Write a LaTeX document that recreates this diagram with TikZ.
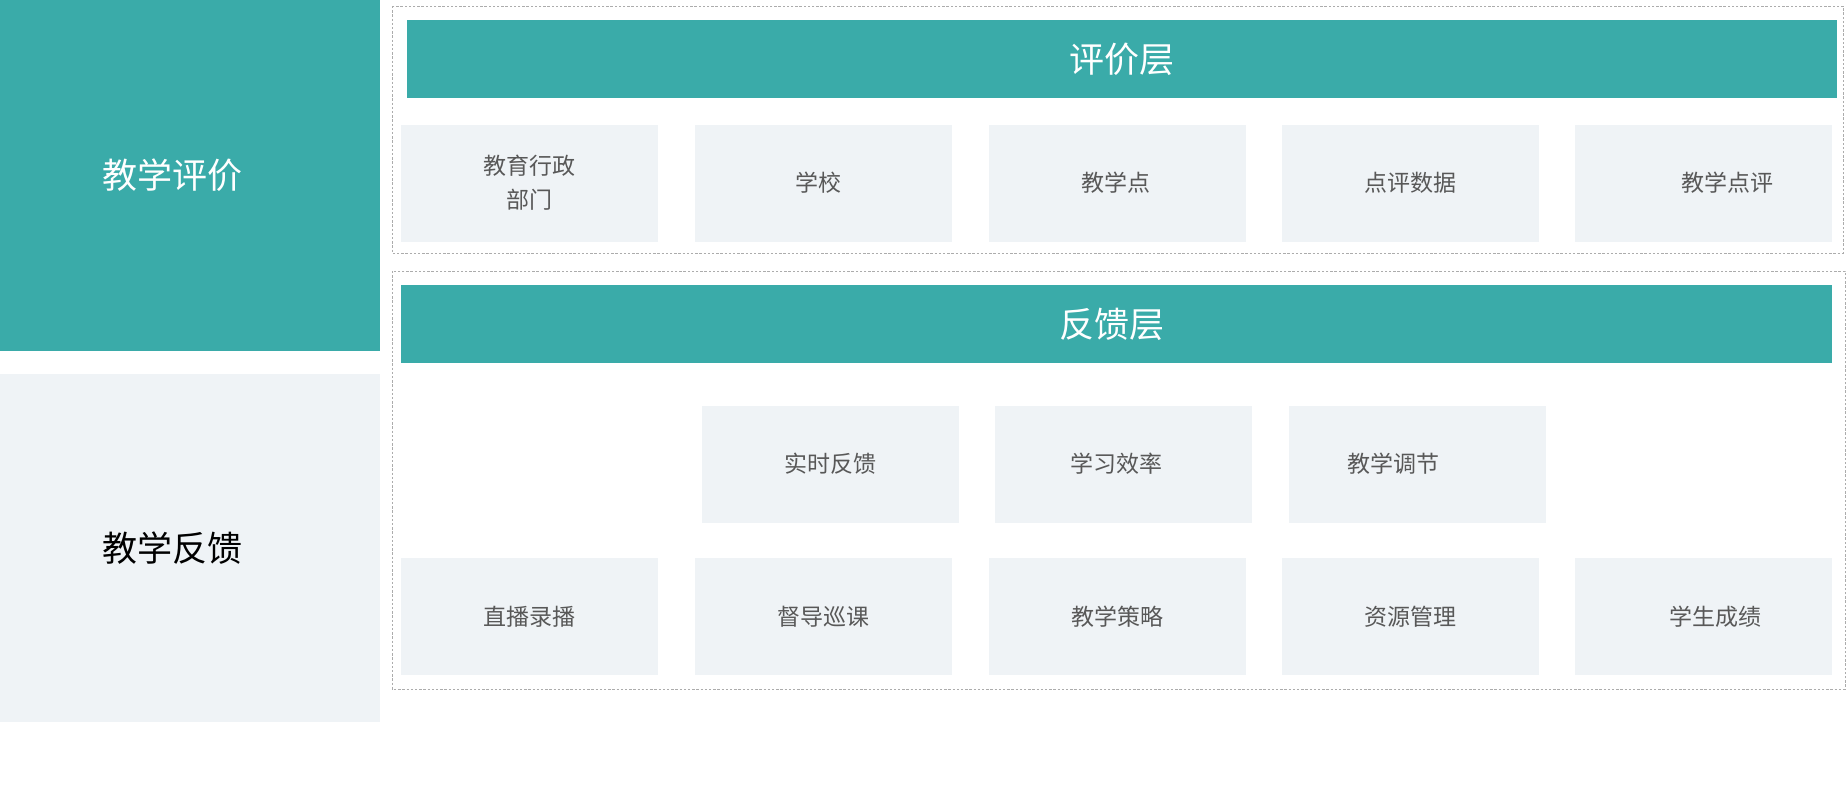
\documentclass[tikz,border=0pt]{standalone}
\usepackage{fontspec}
\setmainfont{Noto Sans CJK SC}
\usetikzlibrary{positioning}
\definecolor{tealbar}{RGB}{58,171,169}
\definecolor{cellgray}{RGB}{239,243,246}
\definecolor{textgray}{RGB}{88,88,88}

\begin{document}
\begin{tikzpicture}[x=0.5pt, y=-0.5pt,
    band/.style={fill=tealbar, text=white, inner sep=0pt, font=\fontsize{17.5}{20}\selectfont},
    cell/.style={fill=cellgray, text=textgray, inner sep=0pt, minimum width=128.5pt, minimum height=58.5pt, align=center, font=\fontsize{11.5}{17}\selectfont},
    layer/.style={draw=gray!65, line width=0.45pt, dash pattern=on 1.2pt off 0.9pt}]
    \useasboundingbox (0,0) rectangle (1846,784);

    % Left column
    \node[band, minimum width=190pt, minimum height=175.5pt] (evalside) at (190,175.5) {\hspace*{-18pt}教学评价};
    \node[band, fill=cellgray, text=black, minimum width=190pt, minimum height=174pt] (feedside) at (190,548) {\hspace*{-18pt}教学反馈};

    % Evaluation layer
    \draw[layer] (392,6) rectangle (1843,253);
    \node[band, minimum width=715pt, minimum height=39pt] (evalbar) at (1122,59) {评价层};
    \foreach \x/\s/\val [count=\i] in {529.5/0/{教育行政\\部门}, 823/-5/学校, 1117.5/-2/教学点, 1410.5/0/点评数据, 1703.5/23.5/教学点评} {
        \node[cell] (eval\i) at (\x,183) {\hspace*{\s pt}\val};
    }

    % Feedback layer
    \draw[layer] (392,271) rectangle (1845,689);
    \node[band, minimum width=715.5pt, minimum height=39pt] (feedbar) at (1116.5,324) {\hspace*{-5pt}反馈层};
    \foreach \x/\s/\val [count=\i] in {830/0/实时反馈, 1123/-7/学习效率, 1417.5/-24/教学调节} {
        \node[cell] (mid\i) at (\x,464) {\hspace*{\s pt}\val};
    }
    \foreach \x/\s/\val [count=\i] in {529.5/0/直播录播, 823/0/督导巡课, 1117.5/0/教学策略, 1410.5/0/资源管理, 1703.5/11.5/学生成绩} {
        \node[cell] (base\i) at (\x,616.5) {\hspace*{\s pt}\val};
    }
\end{tikzpicture}
\end{document}
